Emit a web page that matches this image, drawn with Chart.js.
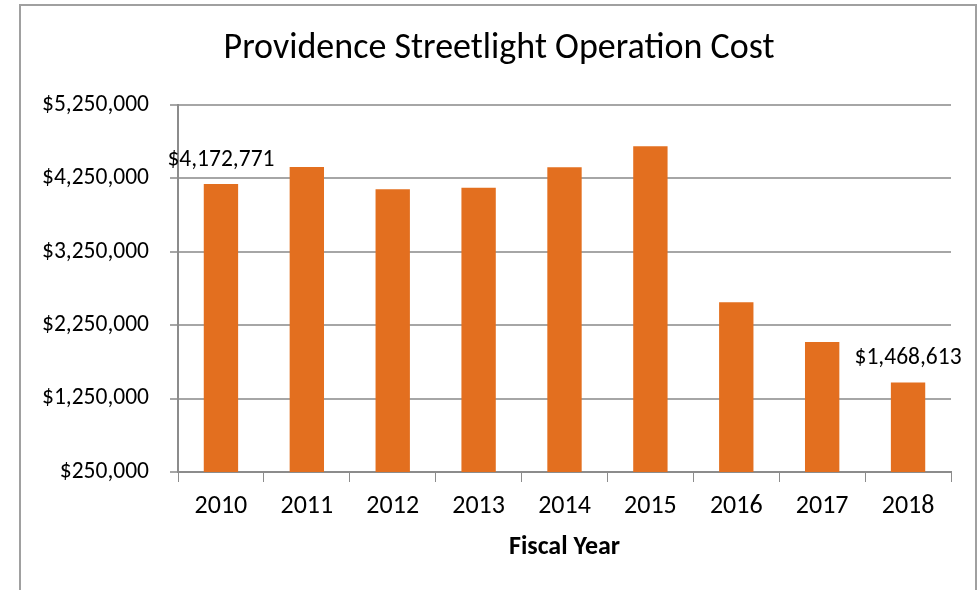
<!DOCTYPE html>
<html>
<head>
<meta charset="utf-8">
<script src="https://cdn.jsdelivr.net/npm/chart.js@4"></script>
<style>
  body { margin: 0; background: #fff; }
  #wrap { position: relative; width: 980px; height: 590px; overflow: hidden; }
  #frame { position: absolute; left: 19px; top: 4px; width: 958px; height: 620px; border: 2px solid #a0a0a0; box-sizing: border-box; }
  canvas { position: absolute; left: 0; top: 0; }
</style>
</head>
<body>
<div id="wrap">
  <div id="frame"></div>
  <canvas id="chart" width="980" height="590"></canvas>
</div>
<script>
// chart data
const years = ['2010', '2011', '2012', '2013', '2014', '2015', '2016', '2017', '2018'];
const operationCost = [4172771, 4405000, 4101000, 4123000, 4401000, 4687000, 2562000, 2021000, 1468613];
const labelledBars = [0, 8];   // only first and last bars carry a value label
const yMin = 250000;
const yMax = 5250000;
const yStep = 1000000;
const chartTitle = 'Providence Streetlight Operation Cost';

const FONT = "Carlito, Lato, 'Open Sans', sans-serif";
const money = v => '$' + Math.round(v).toLocaleString('en-US');

// title is drawn by hand so it can sit a bit right of the canvas centre, like the original
const titleText = {
    id: 'titleText',
    afterDraw(chart) {
        const ctx = chart.ctx;
        ctx.save();
        ctx.font = '36px ' + FONT;
        ctx.fillStyle = '#000';
        ctx.textAlign = 'center';
        ctx.textBaseline = 'alphabetic';
        ctx.fillText(chartTitle, 499, 58);
        ctx.restore();
    }
};

// value text above the chosen bars
const barLabels = {
    id: 'barLabels',
    afterDatasetsDraw(chart) {
        const ctx = chart.ctx;
        const meta = chart.getDatasetMeta(0);
        ctx.save();
        ctx.font = '23.5px ' + FONT;
        ctx.fillStyle = '#000';
        ctx.textAlign = 'center';
        ctx.textBaseline = 'alphabetic';
        labelledBars.forEach(i => {
            const bar = meta.data[i];
            ctx.fillText(money(operationCost[i]), bar.x, bar.y - 18.5);
        });
        ctx.restore();
    }
};

new Chart(document.getElementById('chart'), {
    type: 'bar',
    data: {
        labels: years,
        datasets: [{
            data: operationCost,
            backgroundColor: '#E36F1F',
            borderWidth: 0,
            barPercentage: 0.8,
            categoryPercentage: 0.5
        }]
    },
    options: {
        responsive: false,
        animation: false,
        layout: { padding: { left: 20, right: 29, top: 105, bottom: 0 } },
        plugins: {
            legend: { display: false },
            tooltip: { enabled: false },
            title: { display: false }
        },
        scales: {
            x: {
                grid: { drawOnChartArea: false, drawTicks: true, tickLength: 10, color: '#8c8c8c', lineWidth: 1 },
                border: { color: '#8c8c8c', width: 2 },
                ticks: { color: '#000', font: { family: FONT, size: 26 }, padding: 9 },
                title: {
                    display: true,
                    text: 'Fiscal Year',
                    color: '#000',
                    font: { family: FONT, size: 26, weight: 'bold' },
                    padding: { top: 0, bottom: 27 }
                },
                afterFit(s) { s.height = 118; }
            },
            y: {
                min: yMin,
                max: yMax,
                ticks: {
                    stepSize: yStep,
                    color: '#000',
                    font: { family: FONT, size: 23.5 },
                    padding: 21,
                    callback: v => money(v)
                },
                grid: { color: '#a6a6a6', lineWidth: 2, tickLength: 8 },
                border: { color: '#8c8c8c', width: 2 },
                afterFit(s) { s.width = 158; }
            }
        }
    },
    plugins: [barLabels, titleText]
});
</script>
</body>
</html>
